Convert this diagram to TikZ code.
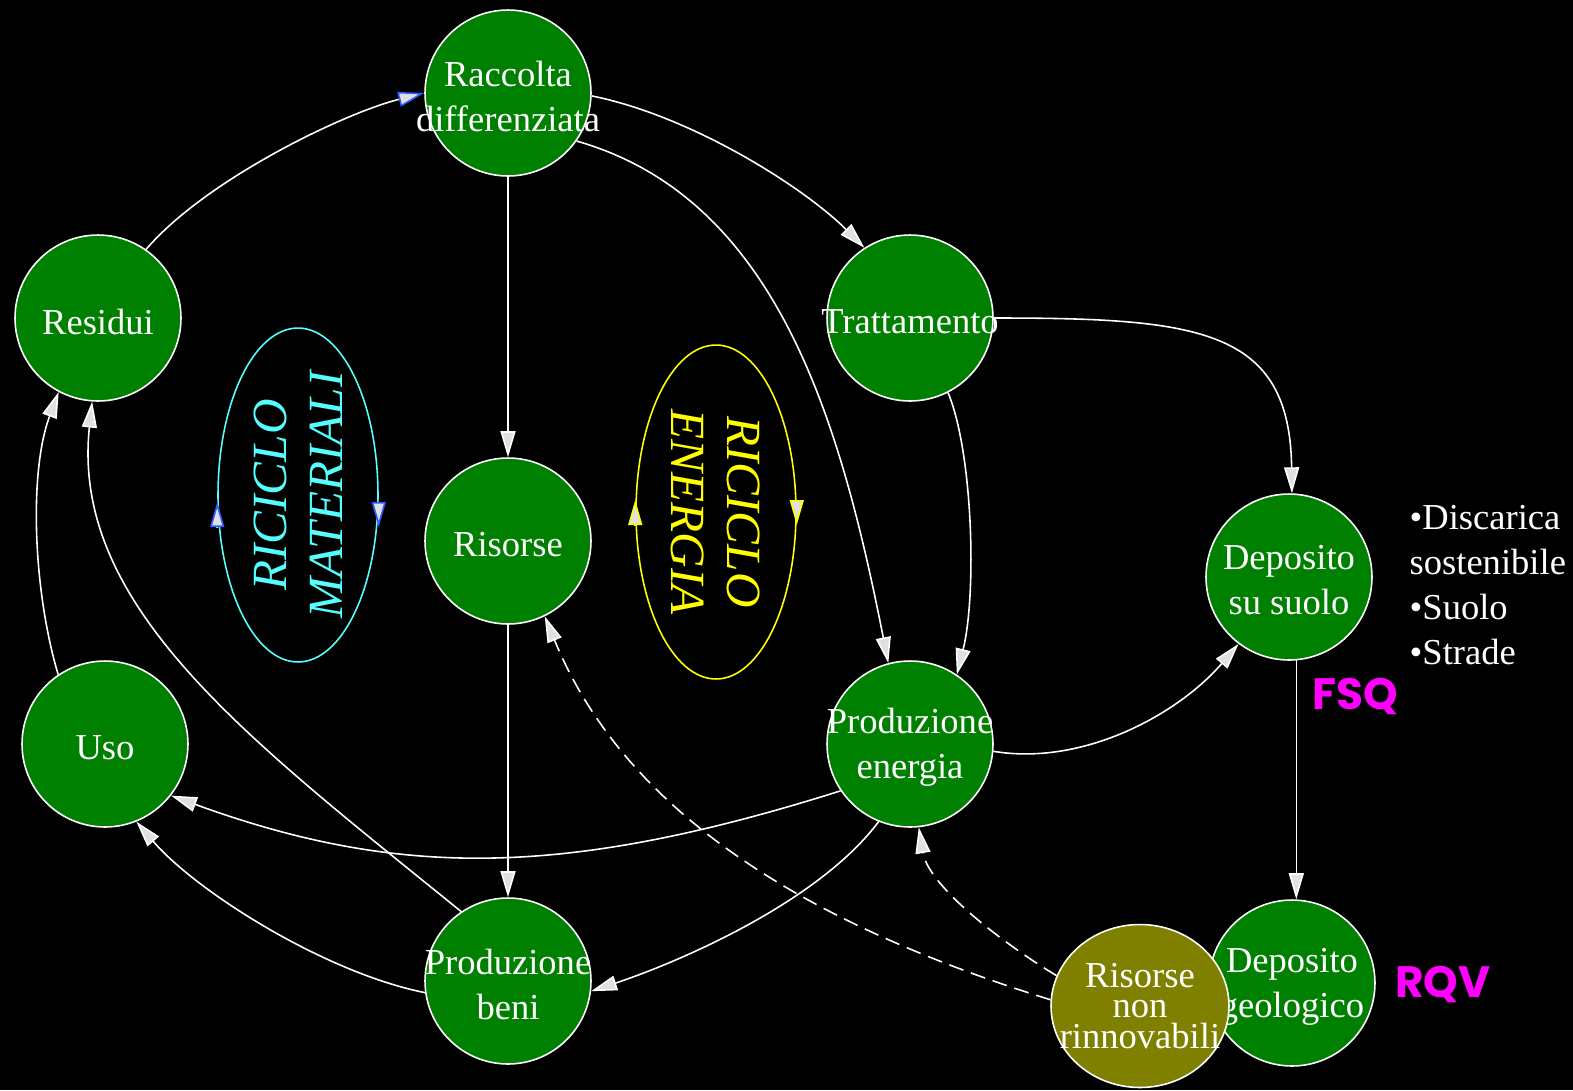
\documentclass[tikz,border=0pt]{standalone}
\usepackage{fontspec}
\setmainfont{Liberation Serif}
\newfontfamily\tagfont{Poppins}
\usetikzlibrary{arrows.meta,shapes.geometric}
\definecolor{cerchio}{RGB}{0,128,0}
\definecolor{oliva}{RGB}{128,128,0}
\definecolor{ciano}{RGB}{85,255,255}
\definecolor{giallo}{RGB}{255,255,0}
\definecolor{fucsia}{RGB}{255,0,255}
\definecolor{punta}{RGB}{224,224,224}
\definecolor{bluepunta}{RGB}{50,90,255}
\newcommand{\testo}{\fontsize{20.8}{25.6}\selectfont}

\begin{document}
\begin{tikzpicture}[x=0.02cm,y=-0.02cm,line width=0.9pt,
    scritta/.style={text=white,inner sep=0pt,align=center,font=\testo},
    fase/.style={circle,draw=white,fill=cerchio,minimum size=3.32cm,inner sep=0pt,label={[scritta,yshift=-0.07cm]center:#1}},
    freccia/.style={white,-{Triangle[length=0.52cm,width=0.3cm,fill=punta]}},
    bluefreccia/.style={white,-{Triangle[length=0.52cm,width=0.3cm,fill=punta,color=bluepunta]}},
    tratteggio/.style={freccia,dash pattern=on 0.3cm off 0.16cm},
    ciclo/.style={ellipse,draw=#1,text=#1,minimum width=6.68cm,minimum height=3.2cm,inner sep=-2cm,align=center,font=\fontsize{28}{31.9}\selectfont\itshape},
    giro/.style={#1,-{Triangle[length=0.5cm,width=0.28cm,fill=punta]}},
    sigla/.style={text=fucsia,font=\tagfont\bfseries\fontsize{25}{30}\selectfont}]
  \path[use as bounding box,fill=black] (0,0) rectangle (1573,1090);

  \node[fase={Raccolta\\differenziata}] (racc) at (508,93) {};
  \node[fase=Residui] (resid) at (98,318) {};
  \node[fase=Trattamento] (tratt) at (910,318) {};
  \node[fase=Risorse] (ris) at (508,541) {};
  \node[fase={Deposito\\su suolo}] (suolo) at (1289,577) {};
  \node[fase=Uso] (uso) at (105,744) {};
  \node[fase={Produzione\\energia}] (en) at (910,744) {};
  \node[fase={Produzione\\beni}] (beni) at (508,981) {};
  \node[fase={Deposito\\geologico}] (geol) at (1292,983) {};
  \node[ellipse,draw=white,fill=oliva,minimum width=3.56cm,minimum height=3.26cm,inner sep=0pt,
        label={[scritta,font=\fontsize{20.8}{17.6}\selectfont]center:Risorse\\non\\rinnovabili}] (nonrin) at (1140,1006) {};

  \node[ciclo=ciano,rotate=90] (ricmat) at (298,495) {RICICLO\\MATERIALI};
  \node[ciclo=giallo,rotate=-90] (ricen) at (716,512) {RICICLO\\ENERGIA};
  \draw[giro=ciano,-{Triangle[length=0.5cm,width=0.28cm,fill=punta,color=bluepunta]}] (ricmat.north) ++(0,32) -- ++(0,-25);
  \draw[giro=ciano,-{Triangle[length=0.5cm,width=0.28cm,fill=punta,color=bluepunta]}] (ricmat.south) ++(0,7) -- ++(0,25);
  \draw[giro=giallo] (ricen.south) ++(0,13) -- ++(0,-25);
  \draw[giro=giallo] (ricen.north) ++(0,-12) -- ++(0,25);

  \draw[bluefreccia] (resid.55) .. controls +(60,-70) and +(-80,20) .. (racc.180);
  \draw[freccia] (racc.-2) .. controls +(100,20) and +(-60,-60) .. (tratt.123);
  \draw[freccia] (racc) -- (ris);
  \draw[freccia] (racc.-35) .. controls +(200,57) and +(-48,-243) .. (en.105);
  \draw[freccia] (tratt.0) .. controls +(205,0) and +(-2,-165) .. (suolo.88);
  \draw[freccia] (tratt.-63) .. controls +(25,60) and +(20,-80) .. (en.56);
  \draw[freccia] (suolo.-85) -- (suolo.-85 |- geol.north);
  \draw[freccia] (en.-5) .. controls +(90,15) and +(-60,70) .. (suolo.-127);
  \draw[freccia] (en.214) .. controls +(-276,87) and +(228,83) .. (uso.-38);
  \draw[freccia] (en.248) .. controls +(-60,80) and +(90,-30) .. (beni.-7);
  \draw[freccia] (beni.188) .. controls +(-100,-20) and +(60,70) .. (uso.-68);
  \draw[freccia] (beni.124) .. controls +(-212,-172) and +(-22,205) .. (resid.266);
  \draw[freccia] (uso.124) .. controls +(-25,-84) and +(-30,80) .. (resid.242);
  \draw[freccia] (ris) -- (beni);
  \draw[tratteggio] (nonrin.176) .. controls +(-290,-90) and +(70,170) .. (ris.-64);
  \draw[tratteggio] (nonrin.160) .. controls +(-50,-30) and +(10,60) .. (en.-84);

  \node[text=white,anchor=west,align=left,font=\testo] (elenco) at (1403,585)
    {•Discarica\\sostenibile\\•Suolo\\•Strade};
  \node[sigla] (fsq) at (1355,696) {FSQ};
  \node[sigla] (rqv) at (1443,984) {RQV};
\end{tikzpicture}
\end{document}
